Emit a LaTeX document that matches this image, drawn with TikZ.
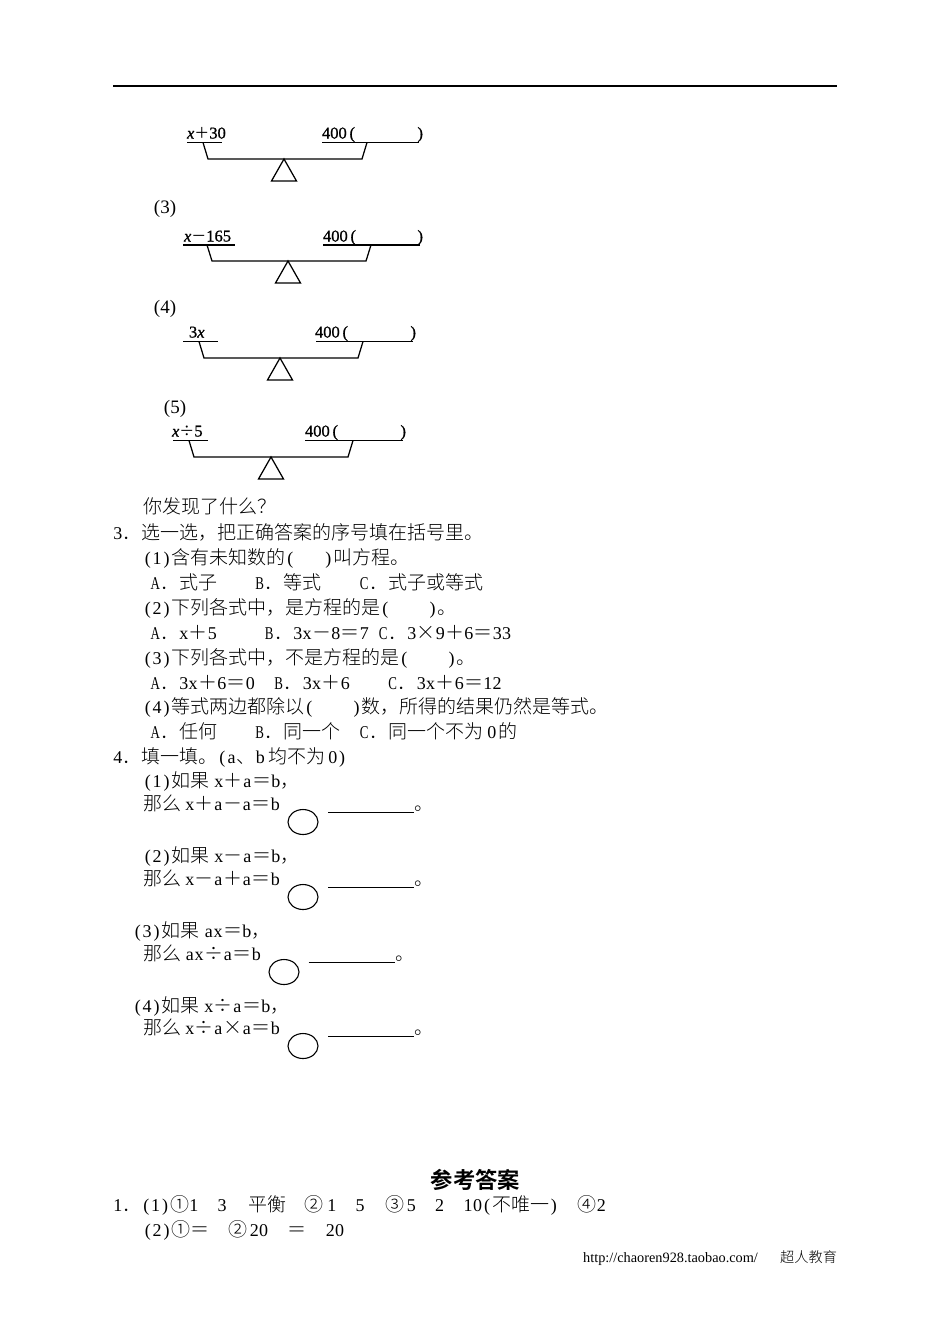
\documentclass[tikz,border=0pt]{standalone}
\usepackage{fontspec}
\setmainfont{Liberation Serif}
\newfontfamily\cjk{Noto Sans CJK SC Light}
\newfontfamily\cjkreg{Noto Sans CJK SC}
\newfontfamily\cjkbold{Noto Sans CJK SC Bold}
\newfontfamily\scanfont[FakeBold=1]{Liberation Serif}
\newfontfamily\scanit[FakeBold=1]{Liberation Serif Italic}
\newlength\hw \setlength\hw{9.5pt}
\makeatletter
\newcommand\la[1]{{\fontspec{Liberation Serif}\fontsize{18}{19}\selectfont\la@loop#1\relax}}
\def\la@loop#1{\ifx#1\relax\else\makebox[\hw][c]{#1}\expandafter\la@loop\fi}
\makeatother
\newcommand\lc[1]{{\fontspec{Liberation Serif}\fontsize{18}{19}\selectfont\makebox[\hw][c]{\scalebox{0.72}[1]{#1}}}}
\newcommand\hs[1]{\hspace*{#1\hw}}
\newcommand\op[1]{{\cjkreg\fontsize{15}{15}\selectfont #1}}
\newcommand\vx{{\scanit x}}
\newcommand\tl[4]{\node[txt] (#1) at (#2,#3+6.4) {#4};}
\newcommand\balance[9]{%
  \draw[ln] (#3,#2) -- (#4,#2);
  \draw[ln] (#5,#2) -- (#6,#2);
  \draw[ln] (#8+0,#2) -- (#8+5,#7) -- (#8+159,#7) -- (#8+164,#2);
  \draw[ln] (#9,#7) -- (#9-12.5,#7+22) -- (#9+12.5,#7+22) -- cycle;
}
\usetikzlibrary{shapes.geometric}
\tikzset{
  txt/.style={anchor=base west,inner sep=0pt,outer sep=0pt,font=\cjk\fontsize{19}{19}\selectfont},
  ln/.style={draw=black,line width=1.25pt,line join=miter},
  thin rule/.style={draw=black,line width=1.2pt},
  blabel/.style={anchor=base west,inner sep=0pt,outer sep=0pt,font=\scanfont\fontsize{16.5}{16}\selectfont},
  num/.style={anchor=center,inner sep=0pt,outer sep=0pt,font=\fontsize{19}{19}\selectfont},
  ring/.style={draw=black,line width=1.1pt,ellipse,minimum width=30pt,minimum height=25pt,inner sep=0pt},
  blank/.style={draw=black,line width=1pt},
}
\begin{document}
\begin{tikzpicture}[x=1pt,y=-1pt]
\useasboundingbox (0,0) rectangle (950,1344);
\fill[white] (0,0) rectangle (950,1344);
\coordinate (ruleL) at (113,86);
\coordinate (ruleR) at (837,86);
\draw[thin rule] (ruleL) -- (ruleR);

% balances
\balance{a}{142.5}{187}{222}{322}{419}{159}{203}{284}
\node[blabel] (a1) at (187,138.5) {\vx\op{＋}30};
\node[blabel] (a2) at (322,138.5) {400\,(};
\node[blabel,anchor=base east] (a3) at (423,138.5) {)};
\node[num] (n3) at (165,208.5) {(3)};
\balance{b}{245}{183}{235}{323}{420}{261}{207}{288}
\node[blabel] (b1) at (184,241.5) {\vx\op{－}165};
\node[blabel] (b2) at (323,241.5) {400\,(};
\node[blabel,anchor=base east] (b3) at (423,241.5) {)};
\node[num] (n4) at (165,308.5) {(4)};
\balance{c}{341.5}{183}{218}{316}{413}{358}{199}{280}
\node[blabel] (c1) at (189,337.5) {3\vx};
\node[blabel] (c2) at (315,337.5) {400\,(};
\node[blabel,anchor=base east] (c3) at (416,337.5) {)};
\node[num] (n5) at (175,408.5) {(5)};
\balance{d}{440.5}{173}{208}{305}{403}{457}{189}{271}
\node[blabel] (d1) at (172,436.5) {\vx\op{÷}5};
\node[blabel] (d2) at (305,436.5) {400\,(};
\node[blabel,anchor=base east] (d3) at (406,436.5) {)};

% section 3
\tl{l1}{143}{507}{你发现了什么？}
\tl{l2}{113}{533}{\la{3}．选一选，把正确答案的序号填在括号里。}
\tl{l3}{143}{558}{\la{(1)}含有未知数的\la{(}\hs{3}\la{)}叫方程。}
\tl{l4}{150.5}{583}{\lc{A}．式子\hs{4}\lc{B}．等式\hs{4}\lc{C}．式子或等式}
\tl{l5}{143}{608}{\la{(2)}下列各式中，是方程的是\la{(}\hs{4}\la{)}。}
\tl{l6}{150.5}{633}{\lc{A}．\la{x}＋\la{5}\hs{5}\lc{B}．\la{3x}－\la{8}＝\la{7}\hs{1}\lc{C}．\la{3}×\la{9}＋\la{6}＝\la{33}}
\tl{l7}{143}{658}{\la{(3)}下列各式中，不是方程的是\la{(}\hs{4}\la{)}。}
\tl{l8}{150.5}{683}{\lc{A}．\la{3x}＋\la{6}＝\la{0}\hs{2}\lc{B}．\la{3x}＋\la{6}\hs{4}\lc{C}．\la{3x}＋\la{6}＝\la{12}}
\tl{l9}{143}{707}{\la{(4)}等式两边都除以\la{(}\hs{4}\la{)}数，所得的结果仍然是等式。}
\tl{l10}{150.5}{732}{\lc{A}．任何\hs{4}\lc{B}．同一个\hs{2}\lc{C}．同一个不为\hspace{4pt}\la{0}\hspace{2pt}的}

% section 4
\tl{l11}{113}{757}{\la{4}．填一填。\la{(a}、\la{b}\hspace{3pt}均不为\hspace{3pt}\la{0)}}
\tl{l12}{143}{781.5}{\la{(1)}如果\hspace{4.5pt}\la{x}＋\la{a}＝\la{b}，}
\tl{l13}{143}{804}{那么\hspace{4pt}\la{x}＋\la{a}－\la{a}＝\la{b}}
\tl{l14}{143}{856}{\la{(2)}如果\hspace{4.5pt}\la{x}－\la{a}＝\la{b}，}
\tl{l15}{143}{879}{那么\hspace{4pt}\la{x}－\la{a}＋\la{a}＝\la{b}}
\tl{l16}{133}{931}{\la{(3)}如果\hspace{4.5pt}\la{ax}＝\la{b}，}
\tl{l17}{143}{954}{那么\hspace{4pt}\la{ax}÷\la{a}＝\la{b}}
\tl{l18}{133}{1006}{\la{(4)}如果\hspace{4.5pt}\la{x}÷\la{a}＝\la{b}，}
\tl{l19}{143}{1028}{那么\hspace{4pt}\la{x}÷\la{a}×\la{a}＝\la{b}}

\node[ring] (r1) at (303,822) {};
\node[ring] (r2) at (303,897) {};
\node[ring] (r3) at (284,972) {};
\node[ring] (r4) at (303,1046) {};
\coordinate (s1a) at (328,812); \coordinate (s1b) at (414,812);
\coordinate (s2a) at (328,887); \coordinate (s2b) at (414,887);
\coordinate (s3a) at (308.5,962); \coordinate (s3b) at (395,962);
\coordinate (s4a) at (328,1036); \coordinate (s4b) at (414,1036);
\draw[blank] (s1a) -- (s1b);
\draw[blank] (s2a) -- (s2b);
\draw[blank] (s3a) -- (s3b);
\draw[blank] (s4a) -- (s4b);
\tl{p1}{414}{804}{。}
\tl{p2}{414}{879}{。}
\tl{p3}{395}{954}{。}
\tl{p4}{414}{1028}{。}

% answers
\node[anchor=center,inner sep=0pt,font=\cjkbold\fontsize{22.3}{22}\selectfont] (title) at (475.5,1180) {参考答案};
\tl{a1l}{113}{1205.5}{\la{1}．\la{(1)}①\la{1}\hs{2}\la{3}\hs{2}\hspace{2pt}平衡\hs{2}②\hspace{3pt}\la{1}\hs{2}\la{5}\hs{2}\hspace{1.5pt}③\hspace{2pt}\la{5}\hs{2}\la{2}\hs{2}\la{10(}不唯一\la{)}\hs{2}④\la{2}}
\tl{a2l}{143}{1230.5}{\la{(2)}①＝\hs{2}②\hspace{2pt}\la{20}\hs{2}＝\hs{2}\la{20}}
\node[anchor=base west,inner sep=0pt,font=\fontsize{14.3}{14}\selectfont] (url) at (583,1262) {http://chaoren928.taobao.com/};
\node[anchor=base west,inner sep=0pt,font=\cjk\fontsize{14.2}{14}\selectfont] (brand) at (780,1262) {超人教育};
\end{tikzpicture}
\end{document}
